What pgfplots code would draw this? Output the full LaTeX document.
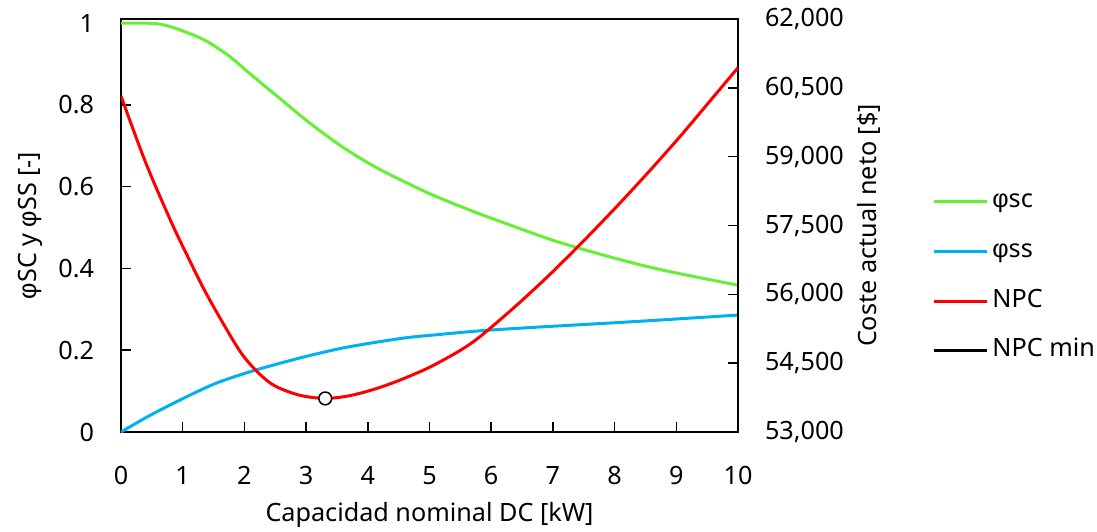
\documentclass[border=0pt]{standalone}
\usepackage{fontspec}
\setmainfont{Noto Sans}
\newfontfamily\phifont{Liberation Sans}
\newcommand{\phis}{{\phifont φ}}
\usepackage{pgfplots}
\pgfplotsset{compat=1.18}
\definecolor{cgreen}{RGB}{102,240,51}
\definecolor{cblue}{RGB}{0,176,240}
\definecolor{cred}{RGB}{255,0,0}

\pgfplotstableread{
x y
0 1.000
0.35 1.000
0.65 0.997
0.98 0.982
1.36 0.958
1.74 0.921
2.06 0.880
2.50 0.825
3.03 0.759
3.58 0.698
4.11 0.649
4.65 0.608
5.09 0.577
5.82 0.533
6.90 0.474
7.39 0.451
7.98 0.426
8.52 0.405
9.06 0.387
10 0.359
}\sctable

\pgfplotstableread{
x y
0 0
0.45 0.039
0.98 0.080
1.52 0.118
2.06 0.146
2.50 0.165
3.03 0.186
3.58 0.205
4.11 0.219
4.65 0.231
5.09 0.2375
5.82 0.2475
6.70 0.256
7.98 0.267
8.75 0.274
10 0.286
}\sstable

\pgfplotstableread{
x y
0 60323
0.4 58870
0.82 57560
1.09 56800
1.36 56071
1.69 55287
1.96 54698
2.23 54284
2.5 53999
2.9 53800
3.31 53732
3.7 53790
4.1 53930
4.5 54120
5.0 54410
5.5 54780
5.82 55080
6.36 55700
6.9 56368
7.39 57018
7.98 57837
8.52 58621
9.06 59438
9.6 60300
10 60940
}\npctable

\begin{document}
\begin{tikzpicture}
\useasboundingbox (-60.5pt,-49.5pt) rectangle (488pt,216pt);
\pgfplotsset{every axis/.append style={
  scale only axis, width=308.5pt, height=206.5pt,
  xmin=0, xmax=10,
  font=\fontsize{12.6}{15}\selectfont,
  /pgf/number format/assume math mode=true,
  tick align=inside, major tick length=5pt,
  tick style={black, line width=0.75pt},
  axis line style={black, line width=0.75pt},
}}
\begin{axis}[
  ymin=0, ymax=1.01,
  xtick={0,1,...,10}, xtick pos=bottom,
  ytick={0,0.2,0.4,0.6,0.8,1}, ytick pos=left,
  xticklabel style={yshift=-13.5pt},
  yticklabel style={xshift=-10pt},
  xlabel={Capacidad nominal DC [kW]},
  ylabel={\phis SC y \phis SS [-]},
  xlabel style={at={(axis description cs:0.5,0)}, anchor=center, yshift=-41.5pt},
  ylabel style={at={(axis description cs:0,0.5)}, anchor=center, yshift=45.5pt},
]
\addplot[cgreen, line width=1.5pt, smooth] table[x=x,y=y] {\sctable};
\addplot[cblue, line width=1.5pt, smooth] table[x=x,y=y] {\sstable};
\end{axis}
\begin{axis}[
  ymin=53000, ymax=62000,
  axis x line=none, axis y line*=right,
  ytick={53000,54500,56000,57500,59000,60500,62000},
  scaled y ticks=false,
  /pgf/number format/fixed,
  /pgf/number format/1000 sep={,},
  yticklabel style={xshift=10pt},
  ylabel={Coste actual neto [\$]},
  ylabel style={at={(axis description cs:1,0.5)}, anchor=center, yshift=-65.5pt},
  legend style={draw=none, fill=none, at={(1.3144,0.377)}, anchor=west,
    inner sep=0pt, row sep=12.8pt, column sep=2pt,
    nodes={inner sep=0pt, text height=9pt, text depth=3pt},
    font=\fontsize{12.6}{15}\selectfont},
  legend cell align=left,
  legend image code/.code={\draw[#1] (0pt,0pt) -- (26.5pt,0pt);},
]
\addlegendimage{cgreen, line width=1.5pt}
\addlegendentry{\phis sc}
\addlegendimage{cblue, line width=1.5pt}
\addlegendentry{\phis ss}
\addplot[cred, line width=1.5pt, smooth] table[x=x,y=y] {\npctable};
\addlegendentry{NPC}
\addplot[only marks, mark=*, mark size=3.2pt, mark options={fill=white, draw=black, line width=0.75pt}, forget plot] coordinates {(3.31,53732)};
\addlegendimage{black, line width=1.5pt}
\addlegendentry{NPC min}
\end{axis}
\end{tikzpicture}
\end{document}
